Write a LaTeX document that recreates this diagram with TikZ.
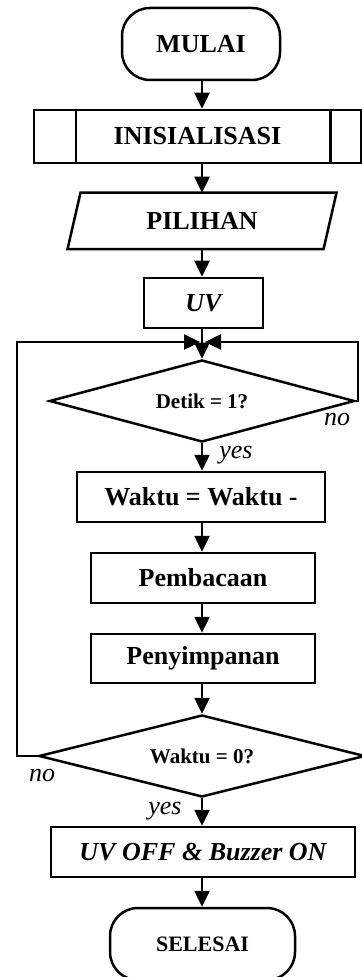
\documentclass[tikz,border=0pt]{standalone}
\usepackage{fontspec}
\setmainfont{Liberation Serif}
\usetikzlibrary{shapes.geometric,arrows.meta}
\tikzset{
  box/.style={draw, line width=1.25pt, inner sep=0pt, font=\fontsize{13}{15}\selectfont\bfseries},
  term/.style={box, rounded corners=14pt},
  decision/.style={draw, diamond, aspect=3.7, line width=1.25pt, inner sep=0pt, font=\fontsize{10.5}{12}\selectfont\bfseries},
  arr/.style={line width=1.25pt, -{Triangle[length=8pt,width=7.5pt]}},
  lbl/.style={font=\fontsize{13}{15}\selectfont\itshape, inner sep=0pt}
}
\begin{document}
\begin{tikzpicture}[x=0.5pt,y=-0.5pt]
    \useasboundingbox (0,0) rectangle (362,977);
    % blocks
    \node[term, minimum width=79pt, minimum height=36pt] (mulai) at (201,44) {MULAI};
    \node[box, minimum width=163.5pt, minimum height=26.5pt] (init) at (197.5,136.5) {INISIALISASI};
    \draw[line width=1.25pt] ([xshift=21.5pt]init.north west) -- ([xshift=21.5pt]init.south west);
    \draw[line width=1.25pt] ([xshift=-16pt]init.north east) -- ([xshift=-16pt]init.south east);
    \node[box, draw=none, minimum width=126.75pt, minimum height=27pt] (pilihan) at (202,221) {PILIHAN};
    \draw[line width=1.25pt] ([xshift=3.25pt]pilihan.north west) -- ([xshift=3.25pt]pilihan.north east)
        -- ([xshift=-3.25pt]pilihan.south east) -- ([xshift=-3.25pt]pilihan.south west) -- cycle;
    \node[box, minimum width=59.5pt, minimum height=25pt, font=\fontsize{13}{15}\selectfont\bfseries\itshape] (uv) at (203.5,303) {UV};
    \coordinate (join) at (202,342);
    \coordinate (rloop) at (358,342);
    \coordinate (lloop) at (17,342);
    \node[decision, minimum width=152.5pt, minimum height=41pt] (detik) at (202,401) {Detik = 1?};
    \node[box, minimum width=124pt, minimum height=25pt] (kurang) at (201,497) {Waktu = Waktu -};
    \node[box, minimum width=112pt, minimum height=25pt] (baca) at (203,578) {Pembacaan};
    \node[box, minimum width=112pt, minimum height=24.5pt] (simpan) at (203,658.5) {Penyimpanan};
    \node[decision, minimum width=163pt, minimum height=41pt] (nol) at (202,756) {Waktu = 0?};
    \node[box, minimum width=152pt, minimum height=25pt, font=\fontsize{13}{15}\selectfont\bfseries\itshape] (buzzer) at (203,852) {UV OFF \& Buzzer ON};
    \node[term, minimum width=92.5pt, minimum height=36pt, font=\fontsize{11}{13}\selectfont\bfseries] (selesai) at (202.5,944) {SELESAI};
    % arrows
    \draw[arr] (mulai.south -| join) -- (init.north -| join);
    \draw[arr] (init.south -| join) -- (pilihan.north -| join);
    \draw[arr] (pilihan.south -| join) -- (uv.north -| join);
    \draw[arr] (uv.south -| join) -- (detik.north);
    \draw[arr] (detik.east) -| (rloop) -- ([xshift=1.5pt]join);
    \draw[arr] (nol.west) -| (lloop) -- ([xshift=-1pt]join);
    \draw[arr] (detik.south) -- (kurang.north -| join);
    \draw[arr] (kurang.south -| join) -- (baca.north -| join);
    \draw[arr] (baca.south -| join) -- (simpan.north -| join);
    \draw[arr] (simpan.south -| join) -- (nol.north);
    \draw[arr] (nol.south) -- (buzzer.north -| join);
    \draw[arr] (buzzer.south -| join) -- (selesai.north -| join);
    % labels
    \node[lbl] (no1) at (337,420) {no};
    \node[lbl] (yes1) at (236,455) {yes};
    \node[lbl] (no2) at (42,775) {no};
    \node[lbl] (yes2) at (165,811) {yes};
\end{tikzpicture}
\end{document}
